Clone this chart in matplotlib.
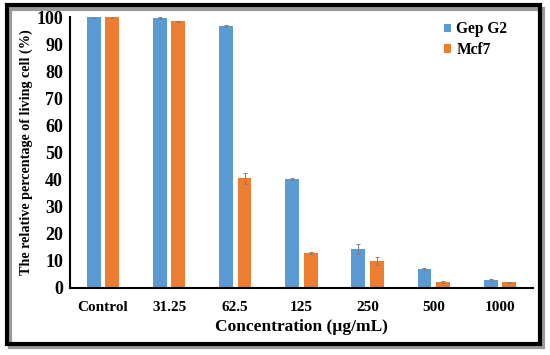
import numpy as np
import matplotlib.pyplot as plt
from matplotlib.patches import Rectangle

# datos
categorias = ["Control", "31.25", "62.5", "125", "250", "500", "1000"]
gep_g2 = [100.0, 99.6, 96.8, 40.1, 14.3, 7.0, 2.9]
gep_g2_err = [0.3, 0.4, 0.3, 0.3, 1.8, 0.4, 0.3]
mcf7 = [100.0, 98.4, 40.4, 12.8, 9.7, 2.0, 1.9]
mcf7_err = [0.3, 0.3, 2.0, 0.4, 1.5, 0.3, 0.3]

plt.rcParams['font.family'] = ['Liberation Serif', 'DejaVu Serif']
plt.rcParams['font.weight'] = 'bold'

fig = plt.figure(figsize=(5.5, 3.55), dpi=100)
ax = fig.add_axes([0.127, 0.19, 0.842, 0.762])

x = np.arange(len(categorias))
w = 0.21
err_kw = dict(ecolor='#7f7f7f', elinewidth=0.7, capsize=1.5, capthick=0.7)
ax.bar(x - 0.14, gep_g2, w, yerr=gep_g2_err, color='#5B9BD5', label='Gep G2', error_kw=err_kw)
ax.bar(x + 0.14, mcf7, w, yerr=mcf7_err, color='#ED7D31', label='Mcf7', error_kw=err_kw)

ax.set_xlim(-0.5, len(categorias) - 0.5)
ax.set_ylim(0, 100)
ax.set_yticks(range(0, 101, 10))
ax.set_xticks(x)
ax.set_xticklabels(categorias, fontsize=11, fontweight='bold')
ax.tick_params(axis='y', labelsize=13, length=0, pad=5)
ax.tick_params(axis='x', length=0, pad=10)
for t in ax.get_yticklabels():
    t.set_fontweight('bold')

ax.spines['top'].set_visible(False)
ax.spines['right'].set_visible(False)
ax.spines['left'].set_linewidth(1.5)
ax.spines['bottom'].set_linewidth(1.5)

ax.set_xlabel("Concentration (µg/mL)", fontsize=12.5, fontweight='bold', labelpad=3)
ax.set_ylabel("The relative percentage of living cell (%)", fontsize=10.2, fontweight='bold', labelpad=2)

ax.legend(loc='upper left', bbox_to_anchor=(0.807, 0.94), bbox_transform=fig.transFigure,
          frameon=False, borderpad=0, borderaxespad=0, handlelength=0.45, handleheight=0.45,
          handletextpad=0.35, labelspacing=0.3, prop={'weight': 'bold', 'size': 11.2})

# marco con sombra
W, H = 550.0, 355.0
fig.patches.append(Rectangle((9.5 / W, 1 - 347 / H), 533 / W, 338 / H, transform=fig.transFigure,
                             fill=False, edgecolor='#9a9a9a', linewidth=3, zorder=0))
fig.patches.append(Rectangle((7 / W, 1 - 344 / H), 533 / W, 339 / H, transform=fig.transFigure,
                             fill=False, edgecolor='black', linewidth=3, zorder=1))

fig.savefig('out.png', dpi=100)
